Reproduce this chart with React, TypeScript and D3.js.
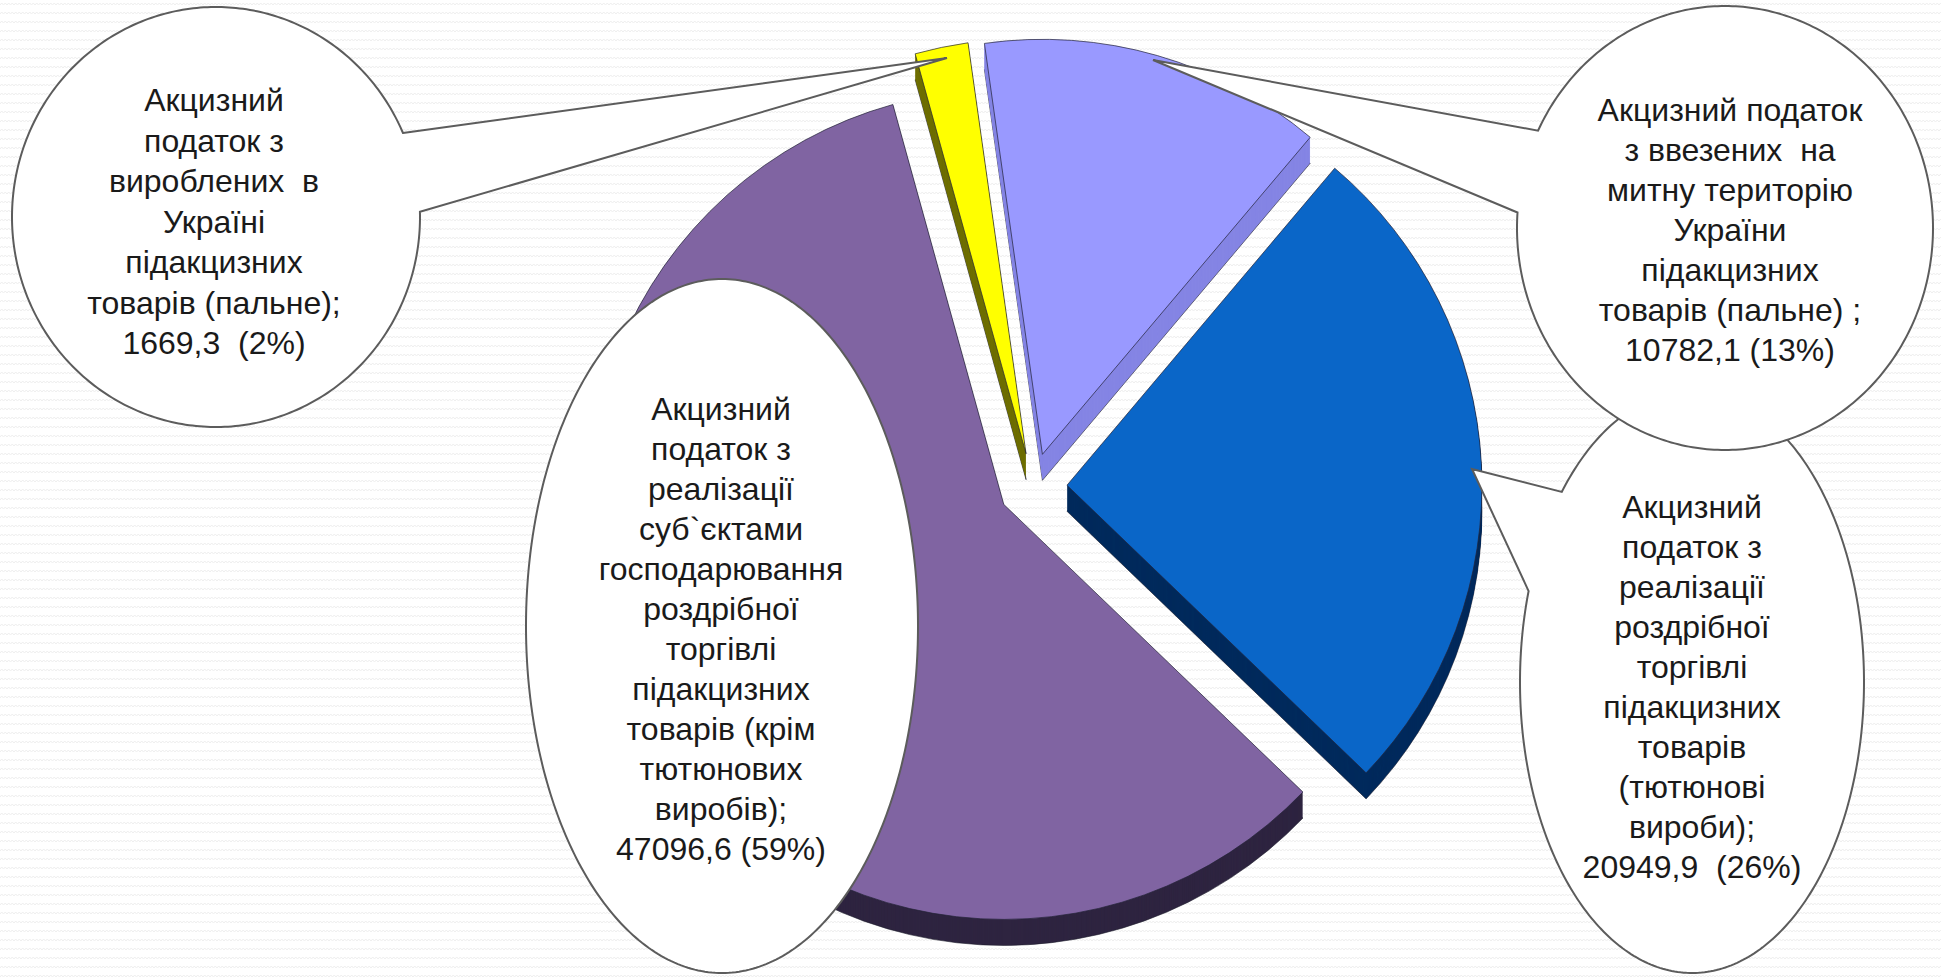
import React from 'react';
import * as d3 from 'd3';

// ---------- data ----------
const categories: string[][] = [
  ['Акцизний', 'податок з', 'вироблених  в', 'Україні', 'підакцизних', 'товарів (пальне);'],
  ['Акцизний податок', 'з ввезених  на', 'митну територію', 'України', 'підакцизних', 'товарів (пальне) ;'],
  ['Акцизний', 'податок з', 'реалізації', 'роздрібної', 'торгівлі', 'підакцизних', 'товарів', '(тютюнові', 'вироби);'],
  ['Акцизний', 'податок з', 'реалізації', 'суб`єктами', 'господарювання', 'роздрібної', 'торгівлі', 'підакцизних', 'товарів (крім', 'тютюнових', 'виробів);'],
];
const values: number[] = [1669.3, 10782.1, 20949.9, 47096.6];
const valueGaps: string[] = ['  ', ' ', '  ', ' '];

// ---------- styles ----------
const topColors = ['#FFFF00', '#9999FF', '#0A66C8', '#8064A2'];
const sideColors = ['#6E6E00', '#8585E4', '#002A5C', '#2E2440'];

const W = 1941;
const H = 977;
const CX = 1033;
const CY = 487;
const R = 415;
const EXPLODE = 34;
const DEPTH = 26;
const START = (-15.5 * Math.PI) / 180;

type Callout = {
  cx: number; cy: number; rx: number; ry: number;
  ta?: number; tb?: number; tip?: [number, number];
  tx: number; ty: number; lh: number;
};
const callouts: Callout[] = [
  { cx: 216, cy: 217, rx: 204, ry: 210, ta: -23.6, tb: -1.4, tip: [947, 58], tx: 214, ty: 100, lh: 40.5 },
  { cx: 1725, cy: 228, rx: 208, ry: 222, ta: 184, tb: 206, tip: [1153, 60], tx: 1730, ty: 110, lh: 40 },
  { cx: 1692, cy: 682, rx: 172, ry: 291, ta: 198.2, tb: 220.8, tip: [1472, 469], tx: 1692, ty: 507, lh: 40 },
  { cx: 722, cy: 626, rx: 196, ry: 347, tx: 721, ty: 409, lh: 40 },
];
const calloutOrder = [2, 1, 3, 0];

function calloutPath(c: Callout): string {
  const pt = (t: number): [number, number] => [
    c.cx + c.rx * Math.cos((t * Math.PI) / 180),
    c.cy + c.ry * Math.sin((t * Math.PI) / 180),
  ];
  const p = d3.path();
  if (c.tip && c.ta !== undefined && c.tb !== undefined) {
    const a = pt(c.ta);
    p.moveTo(a[0], a[1]);
    p.lineTo(c.tip[0], c.tip[1]);
    const b = pt(c.tb);
    p.lineTo(b[0], b[1]);
    for (let t = c.tb; t <= c.ta + 360; t += 1) {
      const q = pt(t);
      p.lineTo(q[0], q[1]);
    }
    p.closePath();
  } else {
    const s = pt(0);
    p.moveTo(s[0], s[1]);
    for (let t = 1; t <= 360; t += 1) {
      const q = pt(t);
      p.lineTo(q[0], q[1]);
    }
    p.closePath();
  }
  return p.toString();
}

export default function App() {
  const total = d3.sum(values);
  const pie = d3
    .pie<number>()
    .sort(null)
    .startAngle(START)
    .endAngle(START + 2 * Math.PI);
  const arcs = pie(values);
  const arcGen = d3.arc<d3.PieArcDatum<number>>().innerRadius(0).outerRadius(R);

  const labels = values.map((v, i) => {
    const pct = Math.round((v / total) * 100);
    const num = v.toFixed(1).replace('.', ',');
    return [...categories[i], `${num}${valueGaps[i]}(${pct}%)`];
  });

  const depthSteps = d3.range(DEPTH, 0, -1);

  return (
    <div style={{ position: 'absolute', left: 0, top: 0, width: W, height: H, overflow: 'hidden' }}>
      <svg width={W} height={H} style={{ display: 'block' }}>
        <defs>
          <pattern id="bgzig" width="7" height="9" patternUnits="userSpaceOnUse">
            <path d="M0,5 L1.75,3 L3.5,5 L5.25,3 L7,5" fill="none" stroke="#ececec" strokeWidth="0.9" />
          </pattern>
        </defs>
        <rect x={0} y={0} width={W} height={H} fill="#ffffff" />
        <rect x={0} y={0} width={W} height={H} fill="url(#bgzig)" />

        {arcs.map((a, i) => {
          const mid = (a.startAngle + a.endAngle) / 2;
          const ox = CX + EXPLODE * Math.sin(mid);
          const oy = CY - EXPLODE * Math.cos(mid);
          const d = arcGen(a) || '';
          return (
            <g key={i} transform={`translate(${ox},${oy})`}>
              {depthSteps.map((s) => (
                <path
                  key={s}
                  d={d}
                  transform={`translate(0,${s})`}
                  fill={sideColors[i]}
                  stroke={s === DEPTH ? '#1b1b2a' : 'none'}
                  strokeWidth={0.6}
                />
              ))}
              <path d={d} fill={topColors[i]} stroke="#222236" strokeWidth={0.7} strokeLinejoin="round" />
            </g>
          );
        })}

        {calloutOrder.map((ci) => {
          const c = callouts[ci];
          return (
            <g key={ci}>
              <path d={calloutPath(c)} fill="#ffffff" stroke="#5c5c5c" strokeWidth={2} strokeLinejoin="miter" />
              <text
                fontFamily="'Liberation Sans', Arial, sans-serif"
                fontSize={32}
                fill="#1a1a1a"
                textAnchor="middle"
                style={{ whiteSpace: 'pre' }}
              >
                {labels[ci].map((line, k) => (
                  <tspan key={k} x={c.tx} y={c.ty + k * c.lh + 11}>
                    {line}
                  </tspan>
                ))}
              </text>
            </g>
          );
        })}
      </svg>
    </div>
  );
}
